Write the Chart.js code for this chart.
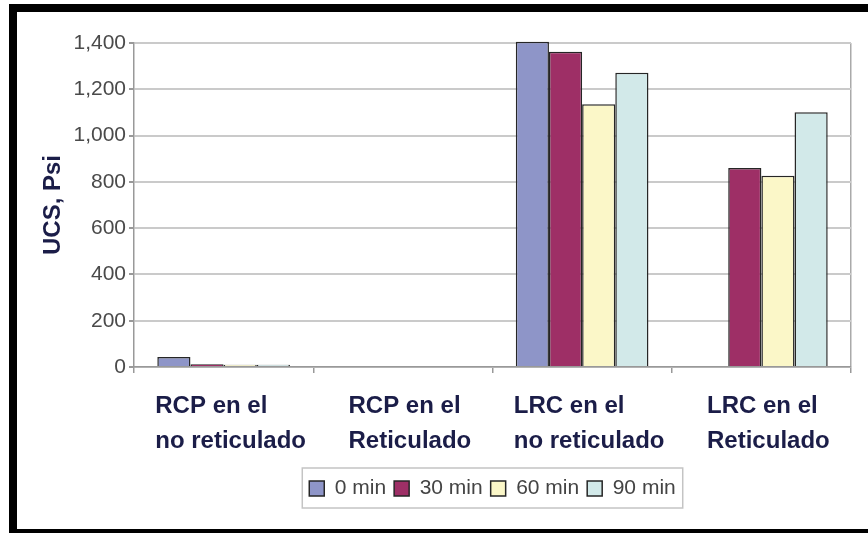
<!DOCTYPE html>
<html><head><meta charset="utf-8">
<script src="https://cdn.jsdelivr.net/npm/chart.js@4/dist/chart.umd.min.js"></script>
<style>
html,body{margin:0;padding:0;background:#fff;overflow:hidden;width:868px;height:533px;}
#frame{position:absolute;left:9px;top:4px;width:900px;height:517px;border:8px solid #000;border-right:none;}
#c{position:absolute;left:17px;top:12px;}
</style></head><body>
<div id="frame"></div>
<canvas id="c" width="851" height="517"></canvas>
<script>
const categories = [["RCP en el","no reticulado"],["RCP en el","Reticulado"],["LRC en el","no reticulado"],["LRC en el","Reticulado"]];
const seriesNames = ["0 min","30 min","60 min","90 min"];
const min0  = [43, null, 1405, null];
const min30 = [12, null, 1362, 860];
const min60 = [10, null, 1135, 826];
const min90 = [10, null, 1271, 1101];
const yTickValues = [0, 200, 400, 600, 800, 1000, 1200, 1400];
const yTitle = "UCS, Psi";
const seriesColors = ["#8e95c8", "#9e2f66", "#fbf7c8", "#d2e9e9"];

const FONT = '"Liberation Sans", Arial, sans-serif';
const NAVY = '#1b1d48';

const xLabelPlugin = {
  id: 'xLabels',
  afterDraw(chart) {
    const sc = chart.scales.x, ctx = chart.ctx;
    ctx.save();
    ctx.font = 'bold 24px ' + FONT;
    ctx.fillStyle = NAVY;
    ctx.textAlign = 'left';
    ctx.textBaseline = 'alphabetic';
    categories.forEach((lines, i) => {
      const cx = sc.getPixelForValue(i) + 7;
      const w = Math.max(...lines.map(l => ctx.measureText(l).width));
      lines.forEach((l, j) => ctx.fillText(l, cx - w / 2, sc.top + 46 + j * 35));
    });
    ctx.restore();
  }
};

const legendPlugin = {
  id: 'legendFix',
  afterUpdate(chart) {
    const lg = chart.legend, ca = chart.chartArea;
    const d = (ca.left + ca.right) / 2 - (lg.left + lg.right) / 2;
    lg.left += d; lg.right += d;
    (lg.legendHitBoxes || []).forEach(h => { h.left += d; });
  },
  afterDraw(chart) {
    const hb = chart.legend.legendHitBoxes;
    if (!hb || !hb.length) return;
    const l = Math.min(...hb.map(h => h.left)), r = Math.max(...hb.map(h => h.left + h.width));
    const t = Math.min(...hb.map(h => h.top)), b = Math.max(...hb.map(h => h.top + h.height));
    const ctx = chart.ctx;
    ctx.save();
    ctx.strokeStyle = '#c4c4c4';
    ctx.lineWidth = 1.5;
    ctx.strokeRect(l - 7, t - 10, r - l + 14, b - t + 19);
    ctx.restore();
  }
};

const dataArrays = [min0, min30, min60, min90];
new Chart(document.getElementById('c'), {
  type: 'bar',
  data: {
    labels: categories,
    datasets: seriesNames.map((n, i) => ({
      label: n,
      data: dataArrays[i],
      backgroundColor: seriesColors[i],
      borderColor: '#262626',
      borderWidth: 1.5,
      categoryPercentage: 0.74,
      barPercentage: 1.0,
      clip: false
    }))
  },
  options: {
    responsive: false,
    animation: false,
    devicePixelRatio: 1,
    layout: { padding: { top: 31, left: 0, right: 17, bottom: 20 } },
    plugins: {
      tooltip: { enabled: false },
      legend: {
        position: 'bottom',
        labels: {
          boxWidth: 15, boxHeight: 15, padding: 8,
          color: '#444', font: { family: FONT, size: 21 }
        }
      }
    },
    scales: {
      x: {
        afterFit(s) { s.height = 103; },
        ticks: { display: false },
        grid: {
          offset: true,
          drawTicks: true,
          tickLength: 6,
          color: c => (c.index === undefined ? '#aaaaaa' : 'transparent'),
          tickColor: '#999',
          lineWidth: 1.5
        },
        border: { display: true, color: '#999', width: 1.5 }
      },
      y: {
        min: 0, max: 1400,
        afterFit(s) { s.width = 117; },
        afterBuildTicks(s) { s.ticks = yTickValues.map(v => ({ value: v })); },
        ticks: {
          color: '#4a4a4a',
          padding: 3,
          font: { family: FONT, size: 21 },
          callback: v => v.toLocaleString('en-US')
        },
        grid: { color: '#cacaca', lineWidth: 2, tickLength: 5, tickColor: '#999' },
        border: { display: true, color: '#999', width: 1.5 },
        title: {
          display: true, text: yTitle, color: NAVY,
          font: { family: FONT, size: 24, weight: 'bold' },
          padding: { top: 22, bottom: 0 }
        }
      }
    }
  },
  plugins: [xLabelPlugin, legendPlugin]
});
</script>
</body></html>
